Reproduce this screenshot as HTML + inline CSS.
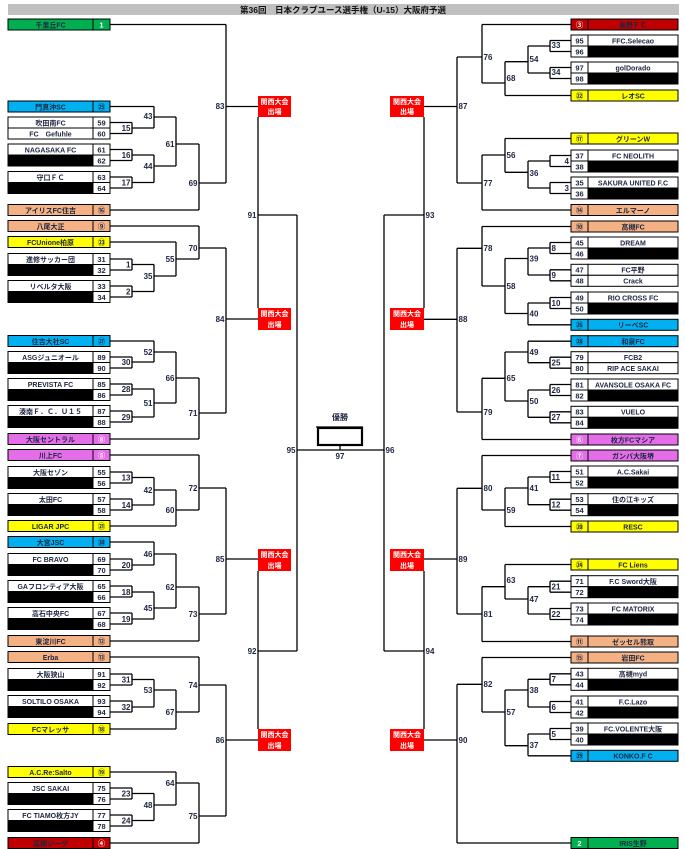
<!DOCTYPE html>
<html><head><meta charset="utf-8"><style>
html,body{margin:0;padding:0;background:#fff;}
svg{display:block;}
.b{stroke:#000;stroke-width:1;}
text{font-family:"Liberation Sans","Noto Sans CJK JP",sans-serif;font-weight:bold;}
.n{font-size:7px;text-anchor:middle;fill:#1b2540;}
.c{font-size:7.5px;text-anchor:middle;fill:#1b2540;}
.w{fill:#fff;}
.l{font-size:8px;text-anchor:end;fill:#1b2540;}
.r{font-size:8px;text-anchor:start;fill:#1b2540;}
.k{font-size:7px;text-anchor:middle;fill:#fff;}
</style></head><body>
<svg width="685" height="849" viewBox="0 0 685 849" xmlns="http://www.w3.org/2000/svg">
<rect x="8" y="4" width="671" height="11" fill="#c0c0c0"/>
<text x="343" y="12.8" style="font-size:8.5px;text-anchor:middle;fill:#111;">第36回　日本クラブユース選手権（U-15）大阪府予選</text>

<g fill="none" stroke="#000" stroke-width="1.3">
<path d="M110 24.5H226 M110 106.5H154 M110 122.5H132 M110 133.5H132 M110 149.5H132 M110 160.5H132 M110 177H132 M110 188H132 M110 210H199
M132 122.5V133.5 M132 128H154 M132 149.5V160.5 M132 155H154 M132 177V188 M132 182.5H154
M154 106.5V128 M154 117H176 M154 155V182.5 M154 166H176 M176 117V166 M176 144H199 M199 144V210 M199 183H226
M226 24.5V183 M226 106.5H258 M258 117V308 M258 215H297
M110 226H199 M110 242H176 M110 259H132 M110 270H132 M110 286H132 M110 297H132
M132 259V270 M132 264.5H154 M132 286V297 M132 291.5H154 M154 264.5V291.5 M154 276H176 M176 242V276 M176 259H199 M199 226V259 M199 248H226
M110 341H154 M110 357H132 M110 368H132 M110 384H132 M110 395H132 M110 411H132 M110 422H132 M110 439H199
M132 357V368 M132 362H154 M154 341V362 M154 352H176 M132 384V395 M132 389H154 M132 411V422 M132 417H154 M154 389V417 M154 403H176
M176 352V403 M176 378H199 M199 378V439 M199 413H226 M226 248V413 M226 319H258
M297 215V651 M297 450H384
M110 455H199 M110 472H132 M110 483H132 M110 499H132 M110 510H132 M110 526H176
M132 472V483 M132 477.5H154 M132 499V510 M132 505H154 M154 477.5V505 M154 490H176 M176 490V526 M176 510H199 M199 455V510 M199 488H226
M110 542H154 M110 559H132 M110 570H132 M110 586H132 M110 597H132 M110 613H132 M110 624H132 M110 641H199
M132 559V570 M132 565H154 M154 542V565 M154 554H176 M132 586V597 M132 592H154 M132 613V624 M132 619H154 M154 592V619 M154 608H176
M176 554V608 M176 587H199 M199 587V641 M199 614H226 M226 488V614 M226 559H258 M258 571V729 M258 651H297
M110 657H199 M110 674H132 M110 685H132 M110 701H132 M110 712H132 M110 729H176
M132 674V685 M132 679.5H154 M132 701V712 M132 707H154 M154 679.5V707 M154 690H176 M176 690V729 M176 712H199 M199 657V712 M199 685H226
M110 772H176 M110 788H132 M110 799H132 M110 815H132 M110 826H132 M110 843H199
M132 788V799 M132 793.5H154 M132 815V826 M132 820.5H154 M154 793.5V820.5 M154 805H176 M176 772V805 M176 783H199 M199 783V843 M199 816H226
M226 685V816 M226 740H258"/>
<path d="M571 24.5H482 M571 40.5H550 M571 51.5H550 M571 67.5H550 M571 78.5H550 M571 95.5H505
M550 40.5V51.5 M550 46H528 M550 67.5V78.5 M550 73H528 M528 46V73 M528 61.7H505 M505 61.7V95.5 M505 83H482 M482 24.5V83 M482 57H457
M571 138.5H505 M571 155.5H550 M571 166.5H550 M571 182.5H550 M571 193.5H550 M571 210H482
M550 155.5V166.5 M550 161H528 M550 182.5V193.5 M550 188H528 M528 161V188 M528 172.3H505 M505 138.5V172.3 M505 155H482 M482 155V210 M482 183H457
M457 57V183 M457 106.5H424 M424 117V308 M424 215H384
M571 226.5H482 M571 242.5H550 M571 253.5H550 M571 269.8H550 M571 280.8H550 M571 297.5H550 M571 308.5H550 M571 324.8H528
M550 242.5V253.5 M550 248H528 M550 269.8V280.8 M550 275H528 M528 248V275 M528 258.5H505 M550 297.5V308.5 M550 303H528 M528 303V324.8 M528 313.5H505
M505 258.5V313.5 M505 286H482 M482 226.5V286 M482 248.3H457
M571 341.2H528 M571 357.2H550 M571 368.2H550 M571 384.5H550 M571 395.5H550 M571 411.8H550 M571 422.8H550 M571 439.5H482
M550 357.2V368.2 M550 362.7H528 M528 341.2V362.7 M528 352H505 M550 384.5V395.5 M550 390H528 M550 411.8V422.8 M550 417.3H528 M528 390V417.3 M528 401H505
M505 352V401 M505 378.3H482 M482 378.3V439.5 M482 412H457 M457 248.3V412 M457 319.3H424
M384 215V651
M571 455.5H482 M571 471.5H550 M571 482.5H550 M571 499.2H550 M571 510.2H550 M571 526.5H505
M550 471.5V482.5 M550 477H528 M550 499.2V510.2 M550 504.7H528 M528 477V504.7 M528 488H505 M505 488V526.5 M505 510H482 M482 455.5V510 M482 488.3H457
M571 564.5H505 M571 581.2H550 M571 592.2H550 M571 608.5H550 M571 619.5H550 M571 641.5H482
M550 581.2V592.2 M550 586.7H528 M550 608.5V619.5 M550 614H528 M528 586.7V614 M528 599H505 M505 564.5V599 M505 586.7H482 M482 586.7V641.5 M482 614H457
M457 488.3V614 M457 559H424 M424 571V729 M424 651H384
M571 657.5H482 M571 673.8H550 M571 684.8H550 M571 701.5H550 M571 712.5H550 M571 728.5H550 M571 739.5H550 M571 755.8H528 M571 843H457
M550 673.8V684.8 M550 679.3H528 M550 701.5V712.5 M550 707H528 M528 679.3V707 M528 690H505 M550 728.5V739.5 M550 734H528 M528 734V755.8 M528 745.7H505
M505 690V745.7 M505 712H482 M482 657.5V712 M482 684.3H457 M457 684.3V843 M457 740H424
M340 445V450 M316 427H363"/>
<rect x="318" y="428" width="44" height="17" stroke-width="2.2"/>
</g>
<text x="340" y="420" style="font-size:8px;text-anchor:middle;fill:#1b2540;">優勝</text>
<text x="340" y="459" class="c" style="font-size:8px">97</text>

<!-- 関西大会 boxes -->
<g>
<rect x="258" y="96" width="33" height="21" fill="#ff0000"/><text class="k" x="274.5" y="104">関西大会</text><text class="k" x="274.5" y="114">出場</text>
<rect x="258" y="308" width="33" height="22" fill="#ff0000"/><text class="k" x="274.5" y="316">関西大会</text><text class="k" x="274.5" y="327">出場</text>
<rect x="258" y="549" width="33" height="22" fill="#ff0000"/><text class="k" x="274.5" y="557">関西大会</text><text class="k" x="274.5" y="568">出場</text>
<rect x="258" y="729" width="33" height="22" fill="#ff0000"/><text class="k" x="274.5" y="737">関西大会</text><text class="k" x="274.5" y="748">出場</text>
<rect x="390" y="96" width="34" height="21" fill="#ff0000"/><text class="k" x="407" y="104">関西大会</text><text class="k" x="407" y="114">出場</text>
<rect x="390" y="308" width="34" height="22" fill="#ff0000"/><text class="k" x="407" y="316">関西大会</text><text class="k" x="407" y="327">出場</text>
<rect x="390" y="549" width="34" height="22" fill="#ff0000"/><text class="k" x="407" y="557">関西大会</text><text class="k" x="407" y="568">出場</text>
<rect x="390" y="729" width="34" height="22" fill="#ff0000"/><text class="k" x="407" y="737">関西大会</text><text class="k" x="407" y="748">出場</text>
</g>

<!-- left labels -->
<g class="lbl">
<text class="l" x="130.5" y="131">15</text><text class="l" x="130.5" y="158">16</text><text class="l" x="130.5" y="185.5">17</text>
<text class="l" x="152.5" y="119">43</text><text class="l" x="152.5" y="169">44</text><text class="l" x="174.5" y="147">61</text>
<text class="l" x="197.5" y="186">69</text><text class="l" x="224.5" y="109">83</text><text class="l" x="256.5" y="218">91</text>
<text class="l" x="130.5" y="267.5">1</text><text class="l" x="130.5" y="294.5">2</text><text class="l" x="152.5" y="279">35</text>
<text class="l" x="174.5" y="262">55</text><text class="l" x="197.5" y="251">70</text><text class="l" x="130.5" y="365">30</text>
<text class="l" x="152.5" y="355">52</text><text class="l" x="130.5" y="392">28</text><text class="l" x="130.5" y="420">29</text>
<text class="l" x="152.5" y="406">51</text><text class="l" x="174.5" y="381">66</text><text class="l" x="197.5" y="416">71</text>
<text class="l" x="224.5" y="322">84</text><text class="l" x="295.5" y="453">95</text>
<text class="l" x="130.5" y="480.5">13</text><text class="l" x="130.5" y="508">14</text><text class="l" x="152.5" y="493">42</text>
<text class="l" x="174.5" y="513">60</text><text class="l" x="197.5" y="491">72</text><text class="l" x="130.5" y="568">20</text>
<text class="l" x="152.5" y="557">46</text><text class="l" x="130.5" y="595">18</text><text class="l" x="130.5" y="622">19</text>
<text class="l" x="152.5" y="611">45</text><text class="l" x="174.5" y="590">62</text><text class="l" x="197.5" y="617">73</text>
<text class="l" x="224.5" y="562">85</text><text class="l" x="256.5" y="654">92</text>
<text class="l" x="130.5" y="682.5">31</text><text class="l" x="130.5" y="710">32</text><text class="l" x="152.5" y="693">53</text>
<text class="l" x="174.5" y="715">67</text><text class="l" x="197.5" y="688">74</text><text class="l" x="130.5" y="796.5">23</text>
<text class="l" x="130.5" y="823.5">24</text><text class="l" x="152.5" y="808">48</text><text class="l" x="174.5" y="786">64</text>
<text class="l" x="197.5" y="819">75</text><text class="l" x="224.5" y="743">86</text>
</g>
<!-- right labels -->
<g>
<text class="r" x="551.5" y="48">33</text><text class="r" x="551.5" y="75">34</text><text class="r" x="529.5" y="62">54</text>
<text class="r" x="506.5" y="81">68</text><text class="r" x="483.5" y="60">76</text>
<text class="l" x="569" y="164">4</text><text class="l" x="569" y="191">3</text>
<text class="r" x="529.5" y="176">36</text><text class="r" x="506.5" y="158">56</text><text class="r" x="483.5" y="186">77</text>
<text class="r" x="458.5" y="109">87</text><text class="r" x="425.5" y="218">93</text>
<text class="r" x="551.5" y="251">8</text><text class="r" x="551.5" y="278">9</text><text class="r" x="529.5" y="261.5">39</text>
<text class="r" x="551.5" y="306">10</text><text class="r" x="529.5" y="316.5">40</text><text class="r" x="506.5" y="289">58</text>
<text class="r" x="483.5" y="251">78</text><text class="r" x="551.5" y="365.5">25</text><text class="r" x="529.5" y="355">49</text>
<text class="r" x="551.5" y="393">26</text><text class="r" x="551.5" y="420">27</text><text class="r" x="529.5" y="404">50</text>
<text class="r" x="506.5" y="381">65</text><text class="r" x="483.5" y="415">79</text><text class="r" x="458.5" y="322">88</text>
<text class="r" x="385.5" y="453">96</text>
<text class="r" x="551.5" y="480">11</text><text class="r" x="551.5" y="507.5">12</text><text class="r" x="529.5" y="491">41</text>
<text class="r" x="506.5" y="513">59</text><text class="r" x="483.5" y="491">80</text><text class="r" x="551.5" y="589.5">21</text>
<text class="r" x="551.5" y="617">22</text><text class="r" x="529.5" y="602">47</text><text class="r" x="506.5" y="583">63</text>
<text class="r" x="483.5" y="617">81</text><text class="r" x="458.5" y="562">89</text><text class="r" x="425.5" y="654">94</text>
<text class="r" x="551.5" y="682">7</text><text class="r" x="551.5" y="710">6</text><text class="r" x="529.5" y="693">38</text>
<text class="r" x="551.5" y="737">5</text><text class="r" x="529.5" y="748">37</text><text class="r" x="506.5" y="715">57</text>
<text class="r" x="483.5" y="687">82</text><text class="r" x="458.5" y="743">90</text>
</g>

<!-- LEFT TEAMS -->
<g class="b">
<rect x="8" y="19" width="85" height="11" fill="#00b050"/><rect x="93" y="19" width="17" height="11" fill="#00b050"/>
<rect x="8" y="101" width="85" height="11" fill="#00b0f0"/><rect x="93" y="101" width="17" height="11" fill="#00b0f0"/>
<rect x="8" y="117" width="85" height="11" fill="#fff"/><rect x="8" y="128" width="85" height="11" fill="#fff"/><rect x="93" y="117" width="17" height="11" fill="#fff"/><rect x="93" y="128" width="17" height="11" fill="#fff"/>
<rect x="8" y="144" width="85" height="11" fill="#fff"/><rect x="8" y="155" width="85" height="11" fill="#000"/><rect x="93" y="144" width="17" height="11" fill="#fff"/><rect x="93" y="155" width="17" height="11" fill="#fff"/>
<rect x="8" y="171.5" width="85" height="11" fill="#fff"/><rect x="8" y="182.5" width="85" height="11" fill="#000"/><rect x="93" y="171.5" width="17" height="11" fill="#fff"/><rect x="93" y="182.5" width="17" height="11" fill="#fff"/>
<rect x="8" y="204.5" width="85" height="11" fill="#f4b183"/><rect x="93" y="204.5" width="17" height="11" fill="#f4b183"/>
<rect x="8" y="220.5" width="85" height="11" fill="#f4b183"/><rect x="93" y="220.5" width="17" height="11" fill="#f4b183"/>
<rect x="8" y="236.5" width="85" height="11" fill="#ffff00"/><rect x="93" y="236.5" width="17" height="11" fill="#ffff00"/>
<rect x="8" y="253.5" width="85" height="11" fill="#fff"/><rect x="8" y="264.5" width="85" height="11" fill="#000"/><rect x="93" y="253.5" width="17" height="11" fill="#fff"/><rect x="93" y="264.5" width="17" height="11" fill="#fff"/>
<rect x="8" y="280.5" width="85" height="11" fill="#fff"/><rect x="8" y="291.5" width="85" height="11" fill="#000"/><rect x="93" y="280.5" width="17" height="11" fill="#fff"/><rect x="93" y="291.5" width="17" height="11" fill="#fff"/>
<rect x="8" y="335.5" width="85" height="11" fill="#00b0f0"/><rect x="93" y="335.5" width="17" height="11" fill="#00b0f0"/>
<rect x="8" y="351.5" width="85" height="11" fill="#fff"/><rect x="8" y="362.5" width="85" height="11" fill="#000"/><rect x="93" y="351.5" width="17" height="11" fill="#fff"/><rect x="93" y="362.5" width="17" height="11" fill="#fff"/>
<rect x="8" y="378.5" width="85" height="11" fill="#fff"/><rect x="8" y="389.5" width="85" height="11" fill="#000"/><rect x="93" y="378.5" width="17" height="11" fill="#fff"/><rect x="93" y="389.5" width="17" height="11" fill="#fff"/>
<rect x="8" y="405.5" width="85" height="11" fill="#fff"/><rect x="8" y="416.5" width="85" height="11" fill="#000"/><rect x="93" y="405.5" width="17" height="11" fill="#fff"/><rect x="93" y="416.5" width="17" height="11" fill="#fff"/>
<rect x="8" y="433.5" width="85" height="11" fill="#e46ee8"/><rect x="93" y="433.5" width="17" height="11" fill="#e46ee8"/>
<rect x="8" y="449.5" width="85" height="11" fill="#e46ee8"/><rect x="93" y="449.5" width="17" height="11" fill="#e46ee8"/>
<rect x="8" y="466.5" width="85" height="11" fill="#fff"/><rect x="8" y="477.5" width="85" height="11" fill="#000"/><rect x="93" y="466.5" width="17" height="11" fill="#fff"/><rect x="93" y="477.5" width="17" height="11" fill="#fff"/>
<rect x="8" y="493.5" width="85" height="11" fill="#fff"/><rect x="8" y="504.5" width="85" height="11" fill="#000"/><rect x="93" y="493.5" width="17" height="11" fill="#fff"/><rect x="93" y="504.5" width="17" height="11" fill="#fff"/>
<rect x="8" y="520.5" width="85" height="11" fill="#ffff00"/><rect x="93" y="520.5" width="17" height="11" fill="#ffff00"/>
<rect x="8" y="536.5" width="85" height="11" fill="#00b0f0"/><rect x="93" y="536.5" width="17" height="11" fill="#00b0f0"/>
<rect x="8" y="553.5" width="85" height="11" fill="#fff"/><rect x="8" y="564.5" width="85" height="11" fill="#000"/><rect x="93" y="553.5" width="17" height="11" fill="#fff"/><rect x="93" y="564.5" width="17" height="11" fill="#fff"/>
<rect x="8" y="580.5" width="85" height="11" fill="#fff"/><rect x="8" y="591.5" width="85" height="11" fill="#000"/><rect x="93" y="580.5" width="17" height="11" fill="#fff"/><rect x="93" y="591.5" width="17" height="11" fill="#fff"/>
<rect x="8" y="607.5" width="85" height="11" fill="#fff"/><rect x="8" y="618.5" width="85" height="11" fill="#000"/><rect x="93" y="607.5" width="17" height="11" fill="#fff"/><rect x="93" y="618.5" width="17" height="11" fill="#fff"/>
<rect x="8" y="635.5" width="85" height="11" fill="#f4b183"/><rect x="93" y="635.5" width="17" height="11" fill="#f4b183"/>
<rect x="8" y="651.5" width="85" height="11" fill="#f4b183"/><rect x="93" y="651.5" width="17" height="11" fill="#f4b183"/>
<rect x="8" y="668.5" width="85" height="11" fill="#fff"/><rect x="8" y="679.5" width="85" height="11" fill="#000"/><rect x="93" y="668.5" width="17" height="11" fill="#fff"/><rect x="93" y="679.5" width="17" height="11" fill="#fff"/>
<rect x="8" y="695.5" width="85" height="11" fill="#fff"/><rect x="8" y="706.5" width="85" height="11" fill="#000"/><rect x="93" y="695.5" width="17" height="11" fill="#fff"/><rect x="93" y="706.5" width="17" height="11" fill="#fff"/>
<rect x="8" y="723.5" width="85" height="11" fill="#ffff00"/><rect x="93" y="723.5" width="17" height="11" fill="#ffff00"/>
<rect x="8" y="766.5" width="85" height="11" fill="#ffff00"/><rect x="93" y="766.5" width="17" height="11" fill="#ffff00"/>
<rect x="8" y="782.5" width="85" height="11" fill="#fff"/><rect x="8" y="793.5" width="85" height="11" fill="#000"/><rect x="93" y="782.5" width="17" height="11" fill="#fff"/><rect x="93" y="793.5" width="17" height="11" fill="#fff"/>
<rect x="8" y="809.5" width="85" height="11" fill="#fff"/><rect x="8" y="820.5" width="85" height="11" fill="#000"/><rect x="93" y="809.5" width="17" height="11" fill="#fff"/><rect x="93" y="820.5" width="17" height="11" fill="#fff"/>
<rect x="8" y="837.5" width="85" height="11" fill="#c00000"/><rect x="93" y="837.5" width="17" height="11" fill="#c00000"/>
</g>
<g>
<text class="n" x="50.5" y="27.3">千里丘FC</text><text class="c w" x="101.5" y="27.3">1</text>
<text class="n" x="50.5" y="109.3">門真沖SC</text><text class="c" x="101.5" y="109.3">㉕</text>
<text class="n" x="50.5" y="125.3">吹田南FC</text><text class="c" x="101.5" y="125.3">59</text>
<text class="n" x="50.5" y="136.3">FC　Gefuhle</text><text class="c" x="101.5" y="136.3">60</text>
<text class="n" x="50.5" y="152.3">NAGASAKA FC</text><text class="c" x="101.5" y="152.3">61</text><text class="c" x="101.5" y="163.3">62</text>
<text class="n" x="50.5" y="179.8">守口ＦＣ</text><text class="c" x="101.5" y="179.8">63</text><text class="c" x="101.5" y="190.8">64</text>
<text class="n" x="50.5" y="212.8">アイリスFC住吉</text><text class="c" x="101.5" y="212.8">⑯</text>
<text class="n" x="50.5" y="228.8">八尾大正</text><text class="c" x="101.5" y="228.8">⑨</text>
<text class="n" x="50.5" y="244.8">FCUnione柏原</text><text class="c" x="101.5" y="244.8">㉓</text>
<text class="n" x="50.5" y="261.8">進修サッカー団</text><text class="c" x="101.5" y="261.8">31</text><text class="c" x="101.5" y="272.8">32</text>
<text class="n" x="50.5" y="288.8">リベルタ大阪</text><text class="c" x="101.5" y="288.8">33</text><text class="c" x="101.5" y="299.8">34</text>
<text class="n" x="50.5" y="343.8">住吉大社SC</text><text class="c" x="101.5" y="343.8">㉗</text>
<text class="n" x="50.5" y="359.8">ASGジュニオール</text><text class="c" x="101.5" y="359.8">89</text><text class="c" x="101.5" y="370.8">90</text>
<text class="n" x="50.5" y="386.8">PREVISTA FC</text><text class="c" x="101.5" y="386.8">85</text><text class="c" x="101.5" y="397.8">86</text>
<text class="n" x="50.5" y="413.8">湊南Ｆ．Ｃ．Ｕ１５</text><text class="c" x="101.5" y="413.8">87</text><text class="c" x="101.5" y="424.8">88</text>
<text class="n" x="50.5" y="441.8">大阪セントラル</text><text class="c w" x="101.5" y="441.8">⑧</text>
<text class="n" x="50.5" y="457.8">川上FC</text><text class="c w" x="101.5" y="457.8">⑤</text>
<text class="n" x="50.5" y="474.8">大阪セゾン</text><text class="c" x="101.5" y="474.8">55</text><text class="c" x="101.5" y="485.8">56</text>
<text class="n" x="50.5" y="501.8">太田FC</text><text class="c" x="101.5" y="501.8">57</text><text class="c" x="101.5" y="512.8">58</text>
<text class="n" x="50.5" y="528.8">LIGAR JPC</text><text class="c" x="101.5" y="528.8">㉑</text>
<text class="n" x="50.5" y="544.8">大宮JSC</text><text class="c" x="101.5" y="544.8">㉚</text>
<text class="n" x="50.5" y="561.8">FC BRAVO</text><text class="c" x="101.5" y="561.8">69</text><text class="c" x="101.5" y="572.8">70</text>
<text class="n" x="50.5" y="588.8">GAフロンティア大阪</text><text class="c" x="101.5" y="588.8">65</text><text class="c" x="101.5" y="599.8">66</text>
<text class="n" x="50.5" y="615.8">高石中央FC</text><text class="c" x="101.5" y="615.8">67</text><text class="c" x="101.5" y="626.8">68</text>
<text class="n" x="50.5" y="643.8">東淀川FC</text><text class="c" x="101.5" y="643.8">⑫</text>
<text class="n" x="50.5" y="659.8">Erba</text><text class="c" x="101.5" y="659.8">⑬</text>
<text class="n" x="50.5" y="676.8">大阪狭山</text><text class="c" x="101.5" y="676.8">91</text><text class="c" x="101.5" y="687.8">92</text>
<text class="n" x="50.5" y="703.8">SOLTILO OSAKA</text><text class="c" x="101.5" y="703.8">93</text><text class="c" x="101.5" y="714.8">94</text>
<text class="n" x="50.5" y="731.8">FCマレッサ</text><text class="c" x="101.5" y="731.8">⑱</text>
<text class="n" x="50.5" y="774.8">A.C.Re:Salto</text><text class="c" x="101.5" y="774.8">⑲</text>
<text class="n" x="50.5" y="790.8">JSC SAKAI</text><text class="c" x="101.5" y="790.8">75</text><text class="c" x="101.5" y="801.8">76</text>
<text class="n" x="50.5" y="817.8">FC TIAMO枚方JY</text><text class="c" x="101.5" y="817.8">77</text><text class="c" x="101.5" y="828.8">78</text>
<text class="n" x="50.5" y="845.8">高槻ジーグ</text><text class="c w" x="101.5" y="845.8">④</text>
</g>

<!-- RIGHT TEAMS -->
<g class="b">
<rect x="571" y="19" width="17" height="11" fill="#c00000"/><rect x="588" y="19" width="90" height="11" fill="#c00000"/>
<rect x="571" y="35" width="17" height="11" fill="#fff"/><rect x="571" y="46" width="17" height="11" fill="#fff"/><rect x="588" y="35" width="90" height="11" fill="#fff"/><rect x="588" y="46" width="90" height="11" fill="#000"/>
<rect x="571" y="62" width="17" height="11" fill="#fff"/><rect x="571" y="73" width="17" height="11" fill="#fff"/><rect x="588" y="62" width="90" height="11" fill="#fff"/><rect x="588" y="73" width="90" height="11" fill="#000"/>
<rect x="571" y="90" width="17" height="11" fill="#ffff00"/><rect x="588" y="90" width="90" height="11" fill="#ffff00"/>
<rect x="571" y="133" width="17" height="11" fill="#ffff00"/><rect x="588" y="133" width="90" height="11" fill="#ffff00"/>
<rect x="571" y="150" width="17" height="11" fill="#fff"/><rect x="571" y="161" width="17" height="11" fill="#fff"/><rect x="588" y="150" width="90" height="11" fill="#fff"/><rect x="588" y="161" width="90" height="11" fill="#000"/>
<rect x="571" y="177" width="17" height="11" fill="#fff"/><rect x="571" y="188" width="17" height="11" fill="#fff"/><rect x="588" y="177" width="90" height="11" fill="#fff"/><rect x="588" y="188" width="90" height="11" fill="#000"/>
<rect x="571" y="204.5" width="17" height="11" fill="#f4b183"/><rect x="588" y="204.5" width="90" height="11" fill="#f4b183"/>
<rect x="571" y="221" width="17" height="11" fill="#f4b183"/><rect x="588" y="221" width="90" height="11" fill="#f4b183"/>
<rect x="571" y="237" width="17" height="11" fill="#fff"/><rect x="571" y="248" width="17" height="11" fill="#fff"/><rect x="588" y="237" width="90" height="11" fill="#fff"/><rect x="588" y="248" width="90" height="11" fill="#000"/>
<rect x="571" y="264.3" width="17" height="11" fill="#fff"/><rect x="571" y="275.3" width="17" height="11" fill="#fff"/><rect x="588" y="264.3" width="90" height="11" fill="#fff"/><rect x="588" y="275.3" width="90" height="11" fill="#fff"/>
<rect x="571" y="292" width="17" height="11" fill="#fff"/><rect x="571" y="303" width="17" height="11" fill="#fff"/><rect x="588" y="292" width="90" height="11" fill="#fff"/><rect x="588" y="303" width="90" height="11" fill="#000"/>
<rect x="571" y="319.3" width="17" height="11" fill="#00b0f0"/><rect x="588" y="319.3" width="90" height="11" fill="#00b0f0"/>
<rect x="571" y="335.7" width="17" height="11" fill="#00b0f0"/><rect x="588" y="335.7" width="90" height="11" fill="#00b0f0"/>
<rect x="571" y="351.7" width="17" height="11" fill="#fff"/><rect x="571" y="362.7" width="17" height="11" fill="#fff"/><rect x="588" y="351.7" width="90" height="11" fill="#fff"/><rect x="588" y="362.7" width="90" height="11" fill="#fff"/>
<rect x="571" y="379" width="17" height="11" fill="#fff"/><rect x="571" y="390" width="17" height="11" fill="#fff"/><rect x="588" y="379" width="90" height="11" fill="#fff"/><rect x="588" y="390" width="90" height="11" fill="#000"/>
<rect x="571" y="406.3" width="17" height="11" fill="#fff"/><rect x="571" y="417.3" width="17" height="11" fill="#fff"/><rect x="588" y="406.3" width="90" height="11" fill="#fff"/><rect x="588" y="417.3" width="90" height="11" fill="#000"/>
<rect x="571" y="434" width="17" height="11" fill="#e46ee8"/><rect x="588" y="434" width="90" height="11" fill="#e46ee8"/>
<rect x="571" y="450" width="17" height="11" fill="#e46ee8"/><rect x="588" y="450" width="90" height="11" fill="#e46ee8"/>
<rect x="571" y="466" width="17" height="11" fill="#fff"/><rect x="571" y="477" width="17" height="11" fill="#fff"/><rect x="588" y="466" width="90" height="11" fill="#fff"/><rect x="588" y="477" width="90" height="11" fill="#000"/>
<rect x="571" y="493.7" width="17" height="11" fill="#fff"/><rect x="571" y="504.7" width="17" height="11" fill="#fff"/><rect x="588" y="493.7" width="90" height="11" fill="#fff"/><rect x="588" y="504.7" width="90" height="11" fill="#000"/>
<rect x="571" y="521" width="17" height="11" fill="#ffff00"/><rect x="588" y="521" width="90" height="11" fill="#ffff00"/>
<rect x="571" y="559" width="17" height="11" fill="#ffff00"/><rect x="588" y="559" width="90" height="11" fill="#ffff00"/>
<rect x="571" y="575.7" width="17" height="11" fill="#fff"/><rect x="571" y="586.7" width="17" height="11" fill="#fff"/><rect x="588" y="575.7" width="90" height="11" fill="#fff"/><rect x="588" y="586.7" width="90" height="11" fill="#000"/>
<rect x="571" y="603" width="17" height="11" fill="#fff"/><rect x="571" y="614" width="17" height="11" fill="#fff"/><rect x="588" y="603" width="90" height="11" fill="#fff"/><rect x="588" y="614" width="90" height="11" fill="#000"/>
<rect x="571" y="636" width="17" height="11" fill="#f4b183"/><rect x="588" y="636" width="90" height="11" fill="#f4b183"/>
<rect x="571" y="652" width="17" height="11" fill="#f4b183"/><rect x="588" y="652" width="90" height="11" fill="#f4b183"/>
<rect x="571" y="668.3" width="17" height="11" fill="#fff"/><rect x="571" y="679.3" width="17" height="11" fill="#fff"/><rect x="588" y="668.3" width="90" height="11" fill="#fff"/><rect x="588" y="679.3" width="90" height="11" fill="#000"/>
<rect x="571" y="696" width="17" height="11" fill="#fff"/><rect x="571" y="707" width="17" height="11" fill="#fff"/><rect x="588" y="696" width="90" height="11" fill="#fff"/><rect x="588" y="707" width="90" height="11" fill="#000"/>
<rect x="571" y="723" width="17" height="11" fill="#fff"/><rect x="571" y="734" width="17" height="11" fill="#fff"/><rect x="588" y="723" width="90" height="11" fill="#fff"/><rect x="588" y="734" width="90" height="11" fill="#000"/>
<rect x="571" y="750.3" width="17" height="11" fill="#00b0f0"/><rect x="588" y="750.3" width="90" height="11" fill="#00b0f0"/>
<rect x="571" y="837.5" width="17" height="11" fill="#00b050"/><rect x="588" y="837.5" width="90" height="11" fill="#00b050"/>
</g>
<g>
<text class="c w" x="579.5" y="27.3">③</text><text class="n" x="633" y="27.3">長野ＦＣ</text>
<text class="c" x="579.5" y="43.3">95</text><text class="n" x="633" y="43.3">FFC.Selecao</text><text class="c" x="579.5" y="54.3">96</text>
<text class="c" x="579.5" y="70.3">97</text><text class="n" x="633" y="70.3">golDorado</text><text class="c" x="579.5" y="81.3">98</text>
<text class="c" x="579.5" y="98.3">㉒</text><text class="n" x="633" y="98.3">レオSC</text>
<text class="c" x="579.5" y="141.3">⑰</text><text class="n" x="633" y="141.3">グリーンW</text>
<text class="c" x="579.5" y="158.3">37</text><text class="n" x="633" y="158.3">FC NEOLITH</text><text class="c" x="579.5" y="169.3">38</text>
<text class="c" x="579.5" y="185.3">35</text><text class="n" x="633" y="185.3">SAKURA UNITED F.C</text><text class="c" x="579.5" y="196.3">36</text>
<text class="c" x="579.5" y="212.8">⑭</text><text class="n" x="633" y="212.8">エルマーノ</text>
<text class="c" x="579.5" y="229.3">⑩</text><text class="n" x="633" y="229.3">高槻FC</text>
<text class="c" x="579.5" y="245.3">45</text><text class="n" x="633" y="245.3">DREAM</text><text class="c" x="579.5" y="256.3">46</text>
<text class="c" x="579.5" y="272.6">47</text><text class="n" x="633" y="272.6">FC平野</text><text class="c" x="579.5" y="283.6">48</text><text class="n" x="633" y="283.6">Crack</text>
<text class="c" x="579.5" y="300.3">49</text><text class="n" x="633" y="300.3">RIO CROSS FC</text><text class="c" x="579.5" y="311.3">50</text>
<text class="c" x="579.5" y="327.6">㉖</text><text class="n" x="633" y="327.6">リーベSC</text>
<text class="c" x="579.5" y="344">㉘</text><text class="n" x="633" y="344">和泉FC</text>
<text class="c" x="579.5" y="360">79</text><text class="n" x="633" y="360">FCB2</text><text class="c" x="579.5" y="371">80</text><text class="n" x="633" y="371">RIP ACE SAKAI</text>
<text class="c" x="579.5" y="387.3">81</text><text class="n" x="633" y="387.3">AVANSOLE OSAKA FC</text><text class="c" x="579.5" y="398.3">82</text>
<text class="c" x="579.5" y="414.6">83</text><text class="n" x="633" y="414.6">VUELO</text><text class="c" x="579.5" y="425.6">84</text>
<text class="c w" x="579.5" y="442.3">⑥</text><text class="n" x="633" y="442.3">枚方FCマシア</text>
<text class="c w" x="579.5" y="458.3">⑦</text><text class="n" x="633" y="458.3">ガンバ大阪堺</text>
<text class="c" x="579.5" y="474.3">51</text><text class="n" x="633" y="474.3">A.C.Sakai</text><text class="c" x="579.5" y="485.3">52</text>
<text class="c" x="579.5" y="502">53</text><text class="n" x="633" y="502">住の江キッズ</text><text class="c" x="579.5" y="513">54</text>
<text class="c" x="579.5" y="529.3">⑳</text><text class="n" x="633" y="529.3">RESC</text>
<text class="c" x="579.5" y="567.3">㉔</text><text class="n" x="633" y="567.3">FC Liens</text>
<text class="c" x="579.5" y="584">71</text><text class="n" x="633" y="584">F.C Sword大阪</text><text class="c" x="579.5" y="595">72</text>
<text class="c" x="579.5" y="611.3">73</text><text class="n" x="633" y="611.3">FC MATORIX</text><text class="c" x="579.5" y="622.3">74</text>
<text class="c" x="579.5" y="644.3">⑪</text><text class="n" x="633" y="644.3">ゼッセル熊取</text>
<text class="c" x="579.5" y="660.3">⑮</text><text class="n" x="633" y="660.3">岩田FC</text>
<text class="c" x="579.5" y="676.6">43</text><text class="n" x="633" y="676.6">高槻myd</text><text class="c" x="579.5" y="687.6">44</text>
<text class="c" x="579.5" y="704.3">41</text><text class="n" x="633" y="704.3">F.C.Lazo</text><text class="c" x="579.5" y="715.3">42</text>
<text class="c" x="579.5" y="731.3">39</text><text class="n" x="633" y="731.3">FC.VOLENTE大阪</text><text class="c" x="579.5" y="742.3">40</text>
<text class="c" x="579.5" y="758.6">㉙</text><text class="n" x="633" y="758.6">KONKO.F C</text>
<text class="c w" x="579.5" y="845.8">2</text><text class="n" x="633" y="845.8">IRIS生野</text>
</g>
</svg>
</body></html>
